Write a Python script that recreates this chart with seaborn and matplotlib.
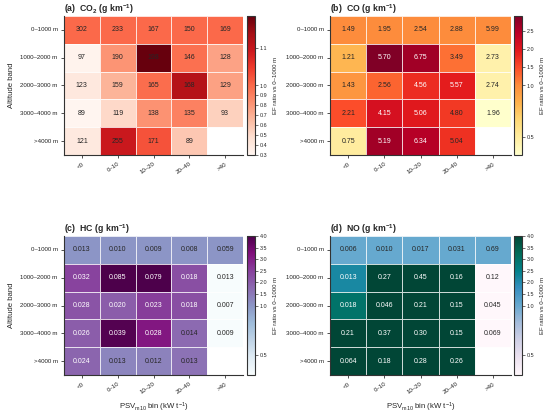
import numpy as np
import pandas as pd
import matplotlib
matplotlib.use("Agg")
import matplotlib.pyplot as plt
from matplotlib.colors import TwoSlopeNorm
import seaborn as sns

# ---------------- data ----------------
altitude_bands = ["0\u20131000 m", "1000\u20132000 m", "2000\u20133000 m", "3000\u20134000 m", ">4000 m"]
psv_bins = ["<0", "0\u201310", "10\u201320", "20\u201340", ">40"]
nan = np.nan

co2_values = [[302, 233, 167, 150, 169],
              [97, 190, 198, 146, 128],
              [123, 159, 165, 168, 129],
              [89, 119, 138, 135, 93],
              [121, 255, 171, 89, nan]]
co_values = [[1.49, 1.95, 2.54, 2.88, 5.99],
             [1.21, 5.70, 6.75, 3.49, 2.73],
             [1.43, 2.56, 4.56, 5.57, 2.74],
             [2.21, 4.15, 5.06, 4.80, 1.96],
             [0.75, 5.19, 6.34, 5.04, nan]]
hc_values = [[0.013, 0.010, 0.009, 0.008, 0.059],
             [0.032, 0.085, 0.079, 0.018, 0.013],
             [0.028, 0.020, 0.023, 0.018, 0.007],
             [0.026, 0.039, 0.028, 0.014, 0.009],
             [0.024, 0.013, 0.012, 0.013, nan]]
no_values = [[0.006, 0.010, 0.017, 0.031, 0.69],
             [0.013, 0.27, 0.45, 0.16, 0.12],
             [0.018, 0.046, 0.21, 0.15, 0.045],
             [0.21, 0.37, 0.30, 0.15, 0.069],
             [0.064, 0.18, 0.28, 0.26, nan]]

titles = ["(a)  CO$_2$ (g km$^{-1}$)", "(b)  CO (g km$^{-1}$)",
          "(c)  HC (g km$^{-1}$)", "(d)  NO (g km$^{-1}$)"]
cmaps = ["Reds", "YlOrRd", "BuPu", "PuBuGn"]
cbar_ticks = [[0.3, 0.4, 0.5, 0.6, 0.7, 0.8, 0.9, 1.0, 1.1],
              [0.5, 1.0, 1.5, 2.0, 2.5],
              [0.5, 1.0, 1.5, 2.0, 2.5, 3.0, 3.5, 4.0],
              [0.5, 1.0, 1.5, 2.0, 2.5, 3.0, 3.5, 4.0]]

def fmt_int(v):
    return f"{v:.0f}"

def fmt_2(v):
    return f"{v:.2f}"

def fmt_3(v):
    return f"{v:.3f}"

def fmt_mixed(v):
    return f"{v:.3f}" if v < 0.1 else f"{v:.2f}"

formatters = [fmt_int, fmt_2, fmt_3, fmt_mixed]
datasets = [co2_values, co_values, hc_values, no_values]

# ---------------- style ----------------
sns.set_style("ticks")
plt.rcParams["font.family"] = ["Liberation Sans", "DejaVu Sans"]
plt.rcParams["mathtext.fontset"] = "custom"
plt.rcParams["mathtext.rm"] = "Liberation Sans"
plt.rcParams["mathtext.it"] = "Liberation Sans:italic"
plt.rcParams["mathtext.bf"] = "Liberation Sans:bold"
plt.rcParams["mathtext.default"] = "regular"

fig = plt.figure(figsize=(5.5, 4.15), dpi=100)

W, H = 550.0, 415.0
axes_px = [(64, 16, 179, 139), (330, 16, 181, 139), (64, 236, 179, 139), (330, 236, 181, 139)]
cax_px = [(247, 16, 8, 139), (514, 16, 8, 139), (247, 236, 8, 139), (514, 236, 8, 139)]

def px_rect(x, y, w, h):
    return [x / W, 1 - (y + h) / H, w / W, h / H]

dark_text = "#262626"

for k in range(4):
    vals = np.array(datasets[k], dtype=float)
    ratio = vals / vals[0:1, :]
    vmin = max(0.3, np.nanmin(ratio))
    vmax = min(4.0, np.nanmax(ratio))
    norm = TwoSlopeNorm(vcenter=1.0, vmin=vmin, vmax=vmax)

    ratio_df = pd.DataFrame(ratio, index=altitude_bands, columns=psv_bins)
    labels = np.array([[formatters[k](v) if np.isfinite(v) else "" for v in row] for row in vals])

    ax = fig.add_axes(px_rect(*axes_px[k]))
    cax = fig.add_axes(px_rect(*cax_px[k]))

    sns.heatmap(ratio_df, ax=ax, cbar_ax=cax, cmap=cmaps[k], norm=norm,
                annot=labels, fmt="", annot_kws={"fontsize": 5},
                linewidths=0.6, linecolor=(1, 1, 1, 0.8),
                mask=~np.isfinite(ratio),
                cbar_kws={"ticks": cbar_ticks[k]})

    # recolour annotations: light text on strongly elevated cells
    finite_ratios = [r for row in ratio for r in row if np.isfinite(r)]
    for txt, r in zip(ax.texts, finite_ratios):
        txt.set_color("white" if r > 1.78 else dark_text)

    # spines left/bottom
    for side in ["left", "bottom"]:
        ax.spines[side].set_visible(True)
        ax.spines[side].set_linewidth(0.8)
        ax.spines[side].set_color("#333333")
    ax.tick_params(axis="both", length=2.5, width=0.6, color="#333333",
                   labelsize=4.4, pad=2, labelcolor="#222222")
    ax.set_yticklabels(altitude_bands, rotation=0)
    ax.set_xticklabels(psv_bins, rotation=35, ha="right", rotation_mode="anchor")

    ax.set_title(titles[k], loc="left", fontsize=6.3, fontweight="bold", pad=3)
    if k % 2 == 0:
        ax.set_ylabel("Altitude band", fontsize=5.6, labelpad=4)
    else:
        ax.set_ylabel("")
    if k >= 2:
        ax.set_xlabel("PSV$_{m10}$ bin (kW t$^{-1}$)", fontsize=5.6, labelpad=4)
    else:
        ax.set_xlabel("")

    cb = ax.collections[0].colorbar
    cb.outline.set_linewidth(0.8)
    cb.outline.set_edgecolor("#333333")
    cb.ax.tick_params(labelsize=3.9, length=2, width=0.5, pad=1.5, color="#333333")
    cb.set_label("EF ratio vs 0\u20131000 m", fontsize=4.3, labelpad=4)

fig.savefig("out.png", dpi=100)
